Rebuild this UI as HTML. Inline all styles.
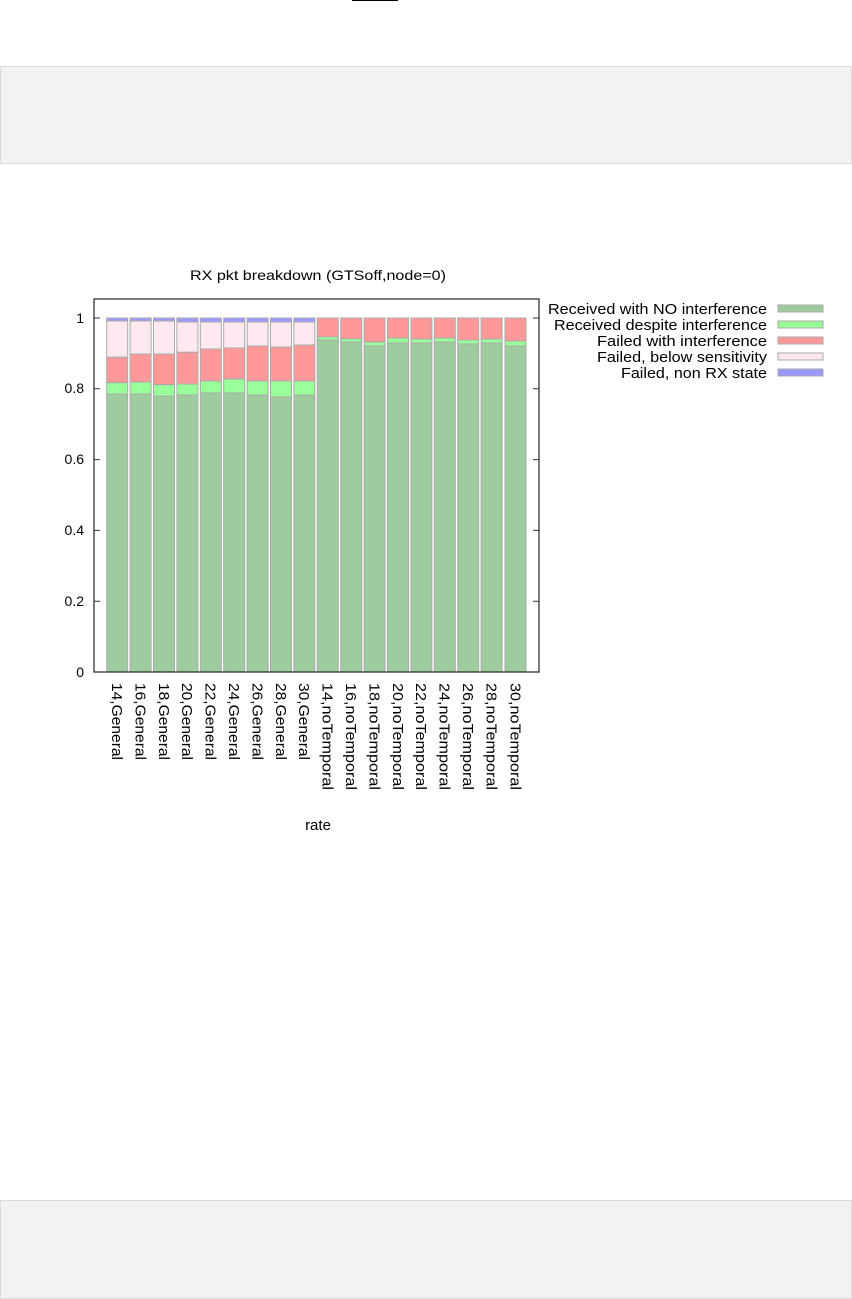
<!DOCTYPE html>
<html><head><meta charset="utf-8"><style>
body{margin:0;width:852px;height:1299px;background:#fff;position:relative;overflow:hidden;font-family:"Liberation Sans",sans-serif}
.box{position:absolute;left:0;width:850px;background:#f2f2f2;border:1px solid #ddd}
</style></head><body>
<div style="position:absolute;left:352px;top:0;width:46px;height:1px;background:#000"></div>
<div class="box" style="top:66px;height:96px"></div>
<div class="box" style="top:1200px;height:97px"></div>
<svg style="position:absolute;left:0;top:0" width="852" height="1299" font-family="Liberation Sans, sans-serif" font-size="14" fill="#000">
<text x="190" y="280" textLength="256" lengthAdjust="spacingAndGlyphs">RX pkt breakdown (GTSoff,node=0)</text>
<g stroke="#aaa" stroke-width="1">
<g>
<rect x="106.7" y="318" width="21" height="3" fill="#9999ff"/><rect x="106.7" y="321" width="21" height="36.3" fill="#ffe9ee"/><rect x="106.7" y="357.3" width="21" height="25.4" fill="#ff9999"/><rect x="106.7" y="382.7" width="21" height="11.3" fill="#99ff99"/><rect x="106.7" y="394" width="21" height="278" fill="#9ecc9e"/>
<rect x="130.1" y="318" width="21" height="3" fill="#9999ff"/><rect x="130.1" y="321" width="21" height="33" fill="#ffe9ee"/><rect x="130.1" y="354" width="21" height="28" fill="#ff9999"/><rect x="130.1" y="382" width="21" height="12" fill="#99ff99"/><rect x="130.1" y="394" width="21" height="278" fill="#9ecc9e"/>
<rect x="153.5" y="318" width="21" height="3" fill="#9999ff"/><rect x="153.5" y="321" width="21" height="33" fill="#ffe9ee"/><rect x="153.5" y="354" width="21" height="30.7" fill="#ff9999"/><rect x="153.5" y="384.7" width="21" height="11.6" fill="#99ff99"/><rect x="153.5" y="396.3" width="21" height="275.7" fill="#9ecc9e"/>
<rect x="176.9" y="318" width="21" height="4" fill="#9999ff"/><rect x="176.9" y="322" width="21" height="30.3" fill="#ffe9ee"/><rect x="176.9" y="352.3" width="21" height="31.7" fill="#ff9999"/><rect x="176.9" y="384" width="21" height="11" fill="#99ff99"/><rect x="176.9" y="395" width="21" height="277" fill="#9ecc9e"/>
<rect x="200.3" y="318" width="21" height="4" fill="#9999ff"/><rect x="200.3" y="322" width="21" height="27" fill="#ffe9ee"/><rect x="200.3" y="349" width="21" height="32" fill="#ff9999"/><rect x="200.3" y="381" width="21" height="12" fill="#99ff99"/><rect x="200.3" y="393" width="21" height="279" fill="#9ecc9e"/>
<rect x="223.7" y="318" width="21" height="4" fill="#9999ff"/><rect x="223.7" y="322" width="21" height="26" fill="#ffe9ee"/><rect x="223.7" y="348" width="21" height="31" fill="#ff9999"/><rect x="223.7" y="379" width="21" height="14" fill="#99ff99"/><rect x="223.7" y="393" width="21" height="279" fill="#9ecc9e"/>
<rect x="247.1" y="318" width="21" height="4" fill="#9999ff"/><rect x="247.1" y="322" width="21" height="24" fill="#ffe9ee"/><rect x="247.1" y="346" width="21" height="35" fill="#ff9999"/><rect x="247.1" y="381" width="21" height="14" fill="#99ff99"/><rect x="247.1" y="395" width="21" height="277" fill="#9ecc9e"/>
<rect x="270.5" y="318" width="21" height="4" fill="#9999ff"/><rect x="270.5" y="322" width="21" height="25" fill="#ffe9ee"/><rect x="270.5" y="347" width="21" height="34" fill="#ff9999"/><rect x="270.5" y="381" width="21" height="16" fill="#99ff99"/><rect x="270.5" y="397" width="21" height="275" fill="#9ecc9e"/>
<rect x="293.9" y="318" width="21" height="4" fill="#9999ff"/><rect x="293.9" y="322" width="21" height="23" fill="#ffe9ee"/><rect x="293.9" y="345" width="21" height="36" fill="#ff9999"/><rect x="293.9" y="381" width="21" height="14" fill="#99ff99"/><rect x="293.9" y="395" width="21" height="277" fill="#9ecc9e"/>
</g>
<g>
<rect x="317.3" y="318" width="21" height="19" fill="#ff9999"/><rect x="317.3" y="337" width="21" height="3" fill="#99ff99"/><rect x="317.3" y="340" width="21" height="332" fill="#9ecc9e"/>
<rect x="340.7" y="318" width="21" height="20.7" fill="#ff9999"/><rect x="340.7" y="338.7" width="21" height="3.3" fill="#99ff99"/><rect x="340.7" y="342" width="21" height="330" fill="#9ecc9e"/>
<rect x="364.1" y="318" width="21" height="24" fill="#ff9999"/><rect x="364.1" y="342" width="21" height="4" fill="#99ff99"/><rect x="364.1" y="346" width="21" height="326" fill="#9ecc9e"/>
<rect x="387.5" y="318" width="21" height="20" fill="#ff9999"/><rect x="387.5" y="338" width="21" height="5" fill="#99ff99"/><rect x="387.5" y="343" width="21" height="329" fill="#9ecc9e"/>
<rect x="410.9" y="318" width="21" height="21" fill="#ff9999"/><rect x="410.9" y="339" width="21" height="4" fill="#99ff99"/><rect x="410.9" y="343" width="21" height="329" fill="#9ecc9e"/>
<rect x="434.3" y="318" width="21" height="20" fill="#ff9999"/><rect x="434.3" y="338" width="21" height="4" fill="#99ff99"/><rect x="434.3" y="342" width="21" height="330" fill="#9ecc9e"/>
<rect x="457.7" y="318" width="21" height="22" fill="#ff9999"/><rect x="457.7" y="340" width="21" height="4" fill="#99ff99"/><rect x="457.7" y="344" width="21" height="328" fill="#9ecc9e"/>
<rect x="481.1" y="318" width="21" height="21" fill="#ff9999"/><rect x="481.1" y="339" width="21" height="4" fill="#99ff99"/><rect x="481.1" y="343" width="21" height="329" fill="#9ecc9e"/>
<rect x="505" y="318" width="21" height="23" fill="#ff9999"/><rect x="505" y="341" width="21" height="5" fill="#99ff99"/><rect x="505" y="346" width="21" height="326" fill="#9ecc9e"/>
</g>
</g>
<rect x="94" y="299" width="445" height="373" fill="none" stroke="#333" stroke-width="1.3"/>
<g stroke="#333" stroke-width="1">
<path d="M94 318h6M94 388.8h6M94 459.6h6M94 530.4h6M94 601.2h6M539 318h-6M539 388.8h-6M539 459.6h-6M539 530.4h-6M539 601.2h-6"/>
</g>
<g text-anchor="end">
<text x="84" y="677">0</text><text x="84" y="606">0.2</text><text x="84" y="535">0.4</text><text x="84" y="464">0.6</text><text x="84" y="393">0.8</text><text x="84" y="323">1</text>
</g>
<g font-size="15">
<text transform="translate(112,683) rotate(90)" textLength="77" lengthAdjust="spacingAndGlyphs">14,General</text>
<text transform="translate(135.4,683) rotate(90)" textLength="77" lengthAdjust="spacingAndGlyphs">16,General</text>
<text transform="translate(158.8,683) rotate(90)" textLength="77" lengthAdjust="spacingAndGlyphs">18,General</text>
<text transform="translate(182.2,683) rotate(90)" textLength="77" lengthAdjust="spacingAndGlyphs">20,General</text>
<text transform="translate(205.6,683) rotate(90)" textLength="77" lengthAdjust="spacingAndGlyphs">22,General</text>
<text transform="translate(229,683) rotate(90)" textLength="77" lengthAdjust="spacingAndGlyphs">24,General</text>
<text transform="translate(252.4,683) rotate(90)" textLength="77" lengthAdjust="spacingAndGlyphs">26,General</text>
<text transform="translate(275.8,683) rotate(90)" textLength="77" lengthAdjust="spacingAndGlyphs">28,General</text>
<text transform="translate(299.2,683) rotate(90)" textLength="77" lengthAdjust="spacingAndGlyphs">30,General</text>
<text transform="translate(322.6,683) rotate(90)" textLength="107" lengthAdjust="spacingAndGlyphs">14,noTemporal</text>
<text transform="translate(346,683) rotate(90)" textLength="107" lengthAdjust="spacingAndGlyphs">16,noTemporal</text>
<text transform="translate(369.4,683) rotate(90)" textLength="107" lengthAdjust="spacingAndGlyphs">18,noTemporal</text>
<text transform="translate(392.8,683) rotate(90)" textLength="107" lengthAdjust="spacingAndGlyphs">20,noTemporal</text>
<text transform="translate(416.2,683) rotate(90)" textLength="107" lengthAdjust="spacingAndGlyphs">22,noTemporal</text>
<text transform="translate(439.6,683) rotate(90)" textLength="107" lengthAdjust="spacingAndGlyphs">24,noTemporal</text>
<text transform="translate(463,683) rotate(90)" textLength="107" lengthAdjust="spacingAndGlyphs">26,noTemporal</text>
<text transform="translate(486.4,683) rotate(90)" textLength="107" lengthAdjust="spacingAndGlyphs">28,noTemporal</text>
<text transform="translate(510.3,683) rotate(90)" textLength="107" lengthAdjust="spacingAndGlyphs">30,noTemporal</text>
</g>
<text x="318" y="830" text-anchor="middle" font-size="15">rate</text>
<g font-size="15">
<text x="548" y="314" textLength="219" lengthAdjust="spacingAndGlyphs">Received with NO interference</text>
<text x="554" y="330" textLength="213" lengthAdjust="spacingAndGlyphs">Received despite interference</text>
<text x="597" y="346" textLength="170" lengthAdjust="spacingAndGlyphs">Failed with interference</text>
<text x="597" y="362" textLength="170" lengthAdjust="spacingAndGlyphs">Failed, below sensitivity</text>
<text x="621" y="378" textLength="146" lengthAdjust="spacingAndGlyphs">Failed, non RX state</text>
</g>
<g stroke="#aaa" stroke-width="1">
<rect x="778" y="305" width="45" height="7" fill="#9ecc9e"/>
<rect x="778" y="321" width="45" height="7" fill="#99ff99"/>
<rect x="778" y="337" width="45" height="7" fill="#ff9999"/>
<rect x="778" y="353" width="45" height="7" fill="#ffe9ee"/>
<rect x="778" y="369" width="45" height="7" fill="#9999ff"/>
</g>
</svg>
</body></html>
